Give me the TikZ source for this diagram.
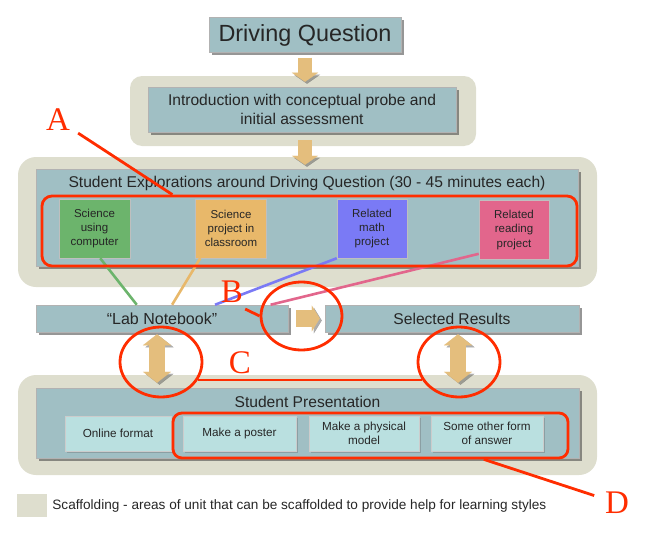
\documentclass[tikz,border=0pt]{standalone}
\usepackage{xcolor}
\usepackage{fontspec}
\setmainfont{Liberation Sans}
\newfontfamily\markfont{Liberation Serif}
\usetikzlibrary{positioning,calc,shapes.geometric,arrows.meta,shadows}

\definecolor{boxteal}{RGB}{160,191,196}
\definecolor{scaff}{RGB}{222,222,206}
\definecolor{lightteal}{RGB}{186,224,224}
\definecolor{sgreen}{RGB}{108,180,108}
\definecolor{sorange}{RGB}{232,184,106}
\definecolor{sblue}{RGB}{122,122,245}
\definecolor{spink}{RGB}{226,102,140}
\definecolor{arrowtan}{RGB}{228,190,125}
\definecolor{annored}{RGB}{255,45,0}

\tikzset{
  scaffold/.style={fill=scaff, rounded corners=16pt},
  tealbox/.style={draw=black!30, line width=0.5pt, fill=boxteal, inner sep=0pt, text=black!85,
    drop shadow={shadow xshift=2.5pt, shadow yshift=-2.5pt, opacity=0.55, fill=black!75}},
  project/.style={draw=black!25, line width=0.5pt, minimum width=71pt, minimum height=59pt, inner sep=0pt,
    align=center, text=black!85, font=\fontsize{11.5}{14.3}\selectfont},
  option/.style={draw=black!20, line width=0.5pt, fill=lightteal, minimum height=35pt, inner sep=0pt,
    align=center, text=black!85, font=\fontsize{11.7}{14.3}\selectfont,
    drop shadow={shadow xshift=1.5pt, shadow yshift=-1.5pt, opacity=0.35, fill=black!60}},
  feed/.style={line width=2.6pt},
  flow/.style={draw=arrowtan, line width=14pt, -{Triangle[width=26pt,length=9pt,line width=0.1pt]},
    preaction={draw=black!70, opacity=0.45, transform canvas={shift={(2pt,-2pt)}}}},
  bothflow/.style={draw=arrowtan, line width=16pt,
    {Triangle[width=28pt,length=11pt,line width=0.1pt]}-{Triangle[width=28pt,length=11pt,line width=0.1pt]},
    preaction={draw=black!70, opacity=0.45, transform canvas={shift={(2.5pt,-2pt)}}}},
  annot/.style={draw=annored, line width=2.8pt},
  letter/.style={text=annored, inner sep=0pt, font=\markfont\fontsize{33}{33}\selectfont}
}

\begin{document}
\begin{tikzpicture}[x=1pt, y=-1pt]
  \useasboundingbox (0,0) rectangle (653,551);

  \fill[scaffold, rounded corners=12pt] (130,76) rectangle (476,146);
  \fill[scaffold, rounded corners=18pt] (18,157) rectangle (597,287);
  \fill[scaffold, rounded corners=18pt] (18,375) rectangle (597,475);

  \node[tealbox, minimum width=192pt, minimum height=35pt, font=\fontsize{23.4}{26}\selectfont] (dq) at (305,35) {Driving Question};
  \node[tealbox, minimum width=308pt, minimum height=45pt, align=center, font=\fontsize{15.6}{18.5}\selectfont] (intro) at (302,109.5) {Introduction with conceptual probe and\\initial assessment};

  \node[tealbox, minimum width=542pt, minimum height=97pt] (explore) at (307,217.5) {};
  \node[text=black!85, font=\fontsize{15.6}{18}\selectfont] (exploreT) at (307,183) {Student Explorations around Driving Question (30 - 45 minutes each)};
  \node[project, fill=sgreen] (comp) at (94.5,228.5) {Science\\using\\computer};
  \node[project, fill=sorange] (class) at (231,228.5) {Science\\project in\\classroom};
  \node[project, fill=sblue, minimum width=70pt] (math) at (372,228.5) {Related\\math\\project};
  \node[project, fill=spink, minimum width=70pt] (read) at (514,230) {Related\\reading\\project};

  \node[tealbox, minimum width=252pt, minimum height=27pt, font=\fontsize{16}{18}\selectfont] (lab) at (162,318.5) {“Lab Notebook”};
  \node[tealbox, minimum width=254pt, minimum height=27pt, font=\fontsize{15.6}{18}\selectfont] (results) at (452,318.5) {Selected Results};

  \node[tealbox, minimum width=543pt, minimum height=70pt] (pres) at (307.5,423) {};
  \node[text=black!85, font=\fontsize{15.6}{18}\selectfont] (presT) at (307.5,402) {Student Presentation};
  \node[option, minimum width=106pt] (online) at (118,433.5) {Online format};
  \node[option, minimum width=113pt] (poster) at (239.5,433.5) {Make a poster};
  \node[option, minimum width=110pt] (model) at (364,433.5) {Make a physical\\model};
  \node[option, minimum width=112pt] (other) at (487,433.5) {Some other form\\of answer};

  \node[fill=scaff, minimum width=30pt, minimum height=23pt, inner sep=0pt] (legsq) at (32,505.5) {};
  \node[right=5pt of legsq, inner sep=0pt, text=black!85, font=\fontsize{13.6}{16}\selectfont] (legtext) {Scaffolding - areas of unit that can be scaffolded to provide help for learning styles};

  \draw[flow, shorten <=5pt, shorten >=5pt] (dq.south) -- (dq.south |- intro.north);
  \draw[flow, shorten <=8pt, shorten >=4pt] (dq.south |- intro.south) -- (dq.south |- explore.north);
  \draw[flow, line width=17pt, -{Triangle[width=26pt,length=8pt,line width=0.1pt]}, shorten <=8pt, shorten >=5pt] (lab.east) -- (results.west);
  \draw[bothflow, shorten <=2pt, shorten >=5pt] ($(lab.south)+(-5,0)$) -- ($(lab.south |- pres.north)+(-5,0)$);
  \draw[bothflow, shorten <=2pt, shorten >=5pt] ($(results.south)+(6,0)$) -- ($(results.south |- pres.north)+(6,0)$);

  \draw[feed, sgreen] ($(comp.south west)!0.58!(comp.south east)$) -- ($(lab.north west)!0.40!(lab.north east)$);
  \draw[feed, sorange] ($(class.south west)!0.07!(class.south east)$) -- ($(lab.north west)!0.54!(lab.north east)$);
  \draw[feed, sblue] (math.south west) -- ($(lab.north west)!0.71!(lab.north east)$);
  \draw[feed, spink] ($(read.north west)!0.9!(read.south west)$) -- ($(lab.north west)!0.93!(lab.north east)$);

  \node[annot, rounded corners=10pt, minimum width=535pt, minimum height=70pt] (redA) at (309.5,231) {};
  \node[annot, ellipse, minimum width=81pt, minimum height=68pt] (ringB) at (301.5,316) {};
  \node[annot, ellipse, minimum width=82pt, minimum height=70pt] (ringL) at (161,362) {};
  \node[annot, ellipse, minimum width=82pt, minimum height=70pt] (ringR) at (459,362) {};
  \node[annot, rounded corners=9pt, minimum width=395pt, minimum height=45pt] (redD) at (370.5,435.5) {};

  \node[letter] (labA) at (58,120) {A};
  \node[letter] (labB) at (232,292) {B};
  \node[letter] (labC) at (240,363) {C};
  \node[letter] (labD) at (617,503) {D};

  \draw[annot, shorten <=24pt] (labA.center) -- ($(redA.north west)!0.245!(redA.north east)$);
  \draw[annot] ([shift={(2pt,-6pt)}]labB.south east) -- (ringB.west);
  \draw[annot] (ringL.-26) -- (ringR.206);
  \draw[annot, shorten >=24pt] ($(redD.south west)!0.785!(redD.south east)$) -- (labD.center);
\end{tikzpicture}
\end{document}
